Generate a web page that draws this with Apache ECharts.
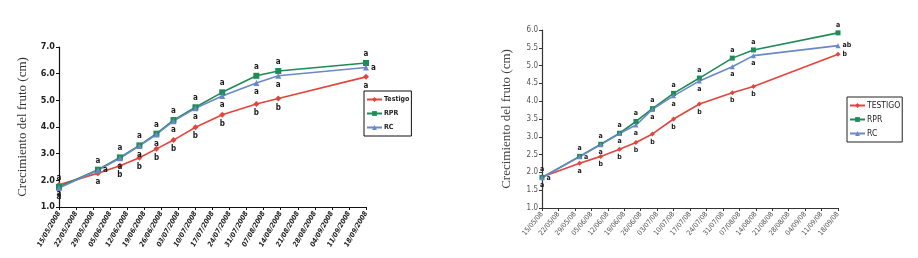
<!DOCTYPE html>
<html>
<head>
<meta charset="utf-8">
<script src="https://cdn.jsdelivr.net/npm/echarts@6/dist/echarts.min.js"></script>
<style>html,body{margin:0;padding:0;background:#fff}#c{width:918px;height:258px}</style>
</head>
<body>
<div id="c"></div>
<script>
// ---- data ----
const tickLabelsA = ['15/05/2008','22/05/2008','29/05/2008','05/06/2008','12/06/2008','19/06/2008','26/06/2008','03/07/2008','10/07/2008','17/07/2008','24/07/2008','31/07/2008','07/08/2008','14/08/2008','21/08/2008','28/08/2008','04/09/2008','11/09/2008','18/09/2008'];
const tickLabelsB = ['15/05/08','22/05/08','29/05/08','05/06/08','12/06/08','19/06/08','26/06/08','03/07/08','10/07/08','17/07/08','24/07/08','31/07/08','07/08/08','14/08/08','21/08/08','28/08/08','04/09/08','11/09/08','18/09/08'];
const sampleDays = [0,16,25,33,40,47,56,67,81,90,126];

const testigoA = [1.83,2.27,2.55,2.85,3.18,3.51,3.99,4.46,4.86,5.07,5.88];
const rprA     = [1.75,2.40,2.86,3.31,3.75,4.26,4.74,5.30,5.92,6.10,6.40];
const rcA      = [1.71,2.38,2.83,3.29,3.72,4.22,4.70,5.16,5.65,5.92,6.23];
const lettersTestigoA = ['a','a','b','b','b','b','b','b','b','b','a'];
const lettersRprA     = ['a','a','a','a','a','a','a','a','a','a','a'];
const lettersRcA      = ['a','a','a','a','a','a','a','a','a','a','a'];

const testigoB = [1.87,2.26,2.45,2.65,2.84,3.08,3.50,3.92,4.24,4.41,5.32];
const rprB     = [1.86,2.45,2.79,3.10,3.43,3.79,4.22,4.65,5.21,5.44,5.92];
const rcB      = [1.85,2.44,2.78,3.09,3.33,3.77,4.15,4.57,4.97,5.28,5.56];
const lettersTestigoB = ['a','a','b','b','b','b','b','b','b','b','b'];
const lettersRprB     = ['a','a','a','a','a','a','a','a','a','a','a'];
const lettersRcB      = ['a','a','a','a','a','a','a','a','a','a','ab'];

const seriesNamesA = ['Testigo','RPR','RC'];
const seriesNamesB = ['TESTIGO','RPR','RC'];

// ---- styling ----
const RED = '#e4443c', GREEN = '#1f8b57', BLUE = '#6b88c9';
const narrow = "'Liberation Sans Narrow','DejaVu Sans Condensed','Liberation Sans',Arial,sans-serif";

function pts(vals, letters, posFn) {
  return vals.map((v, i) => {
    const item = { value: [sampleDays[i], v], letter: letters[i] };
    const p = posFn ? posFn(i) : null;
    if (p) item.label = { position: p };
    return item;
  });
}
function mkSeries(name, idx, vals, letters, color, symbol, size, pos, posFn, font) {
  return {
    type: 'line', name: name, xAxisIndex: idx, yAxisIndex: idx,
    data: pts(vals, letters, posFn),
    symbol: symbol, symbolSize: size,
    lineStyle: { color: color, width: 1.6 },
    itemStyle: { color: color },
    label: {
      show: true, position: pos, distance: 2,
      formatter: p => p.data.letter,
      color: '#1a1a1a', fontSize: font, fontWeight: 'bold', fontFamily: narrow
    },
    z: 3, animation: false
  };
}

const chart = echarts.init(document.getElementById('c'), null, { renderer: 'canvas' });
const last = sampleDays.length - 1;
const option = {
  animation: false,
  grid: [
    { left: 59, top: 47, width: 307, height: 160 },
    { left: 542, top: 30, width: 296, height: 178 }
  ],
  xAxis: [
    { type: 'value', gridIndex: 0, min: 0, max: 126, interval: 7,
      axisLine: { lineStyle: { color: '#111', width: 1.2 } },
      axisTick: { show: true, length: 3, lineStyle: { color: '#111' } },
      splitLine: { show: false },
      axisLabel: { rotate: 60, fontSize: 7, fontWeight: 'bold', fontStyle: 'italic', color: '#222', margin: 5, fontFamily: narrow,
        formatter: v => tickLabelsA[Math.round(v / 7)] || '' } },
    { type: 'value', gridIndex: 1, min: 0, max: 126, interval: 7,
      axisLine: { lineStyle: { color: '#333', width: 1.2 } },
      axisTick: { show: true, length: 3, lineStyle: { color: '#333' } },
      splitLine: { show: false },
      axisLabel: { rotate: 50, fontSize: 7, color: '#555', margin: 5, fontFamily: narrow,
        formatter: v => tickLabelsB[Math.round(v / 7)] || '' } }
  ],
  yAxis: [
    { type: 'value', gridIndex: 0, min: 1, max: 7, interval: 1,
      name: 'Crecimiento del fruto (cm)', nameLocation: 'middle', nameGap: 30, nameRotate: 90,
      nameTextStyle: { fontFamily: "'Liberation Serif','DejaVu Serif',serif", fontSize: 13, color: '#333' },
      axisLine: { show: true, lineStyle: { color: '#111', width: 1.2 } },
      axisTick: { show: true, length: 3, lineStyle: { color: '#111' } },
      splitLine: { show: false },
      axisLabel: { fontSize: 9, fontWeight: 'bold', color: '#222', margin: 4, fontFamily: narrow,
        formatter: v => v.toFixed(1) } },
    { type: 'value', gridIndex: 1, min: 1, max: 6, interval: 0.5,
      name: 'Crecimiento del fruto (cm)', nameLocation: 'middle', nameGap: 29, nameRotate: 90,
      nameTextStyle: { fontFamily: "'Liberation Serif','DejaVu Serif',serif", fontSize: 13, color: '#444' },
      axisLine: { show: true, lineStyle: { color: '#333', width: 1.2 } },
      axisTick: { show: true, length: 3, lineStyle: { color: '#333' } },
      splitLine: { show: false },
      axisLabel: { fontSize: 8, color: '#555', margin: 4, fontFamily: narrow,
        formatter: v => v.toFixed(1) } }
  ],
  legend: [
    { orient: 'vertical', left: 364, top: 91, data: seriesNamesA,
      itemWidth: 15, itemHeight: 6, itemGap: 7, padding: [5, 2, 5, 2],
      borderColor: '#111', borderWidth: 1, backgroundColor: '#fff',
      textStyle: { fontSize: 7, fontWeight: 'bold', color: '#222', fontFamily: narrow, padding: [0, 0, 0, -3] } },
    { orient: 'vertical', left: 847, top: 97, data: seriesNamesB,
      itemWidth: 15, itemHeight: 6, itemGap: 5, padding: [4, 2, 4, 2],
      borderColor: '#222', borderWidth: 1, backgroundColor: '#fff',
      textStyle: { fontSize: 8.5, color: '#222', fontFamily: narrow, padding: [0, 0, 0, -3] } }
  ],
  series: [
    mkSeries(seriesNamesA[0], 0, testigoA, lettersTestigoA, RED, 'diamond', 6, 'bottom', null, 8),
    mkSeries(seriesNamesA[1], 0, rprA, lettersRprA, GREEN, 'rect', 6, 'top', null, 8),
    mkSeries(seriesNamesA[2], 0, rcA, lettersRcA, BLUE, 'triangle', 6, 'bottom', i => (i === 1 || i === last) ? 'right' : null, 8),
    mkSeries(seriesNamesB[0], 1, testigoB, lettersTestigoB, RED, 'diamond', 5, 'bottom', i => (i === last) ? 'right' : null, 7),
    mkSeries(seriesNamesB[1], 1, rprB, lettersRprB, GREEN, 'rect', 5, 'top', null, 7),
    mkSeries(seriesNamesB[2], 1, rcB, lettersRcB, BLUE, 'triangle', 5, 'bottom', i => (i === 0 || i === 1 || i === last) ? 'right' : null, 7)
  ]
};
chart.setOption(option);
</script>
</body>
</html>
